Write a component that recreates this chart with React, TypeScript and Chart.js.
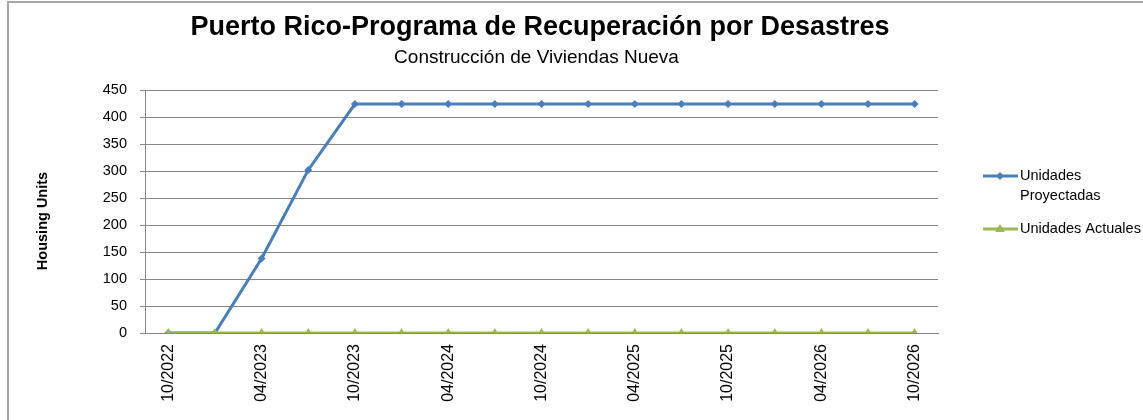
import React, { useEffect, useRef } from "react";
import { Chart, registerables } from "chart.js";

Chart.register(...registerables);

const categories = [
  "10/2022", "01/2023", "04/2023", "07/2023", "10/2023", "01/2024", "04/2024", "07/2024",
  "10/2024", "01/2025", "04/2025", "07/2025", "10/2025", "01/2026", "04/2026", "07/2026", "10/2026",
];
const proyectadas = [0, 0, 138, 302, 424, 424, 424, 424, 424, 424, 424, 424, 424, 424, 424, 424, 424];
const actuales = [0, 0, 0, 0, 0, 0, 0, 0, 0, 0, 0, 0, 0, 0, 0, 0, 0];
const seriesNames = [["Unidades", "Proyectadas"], ["Unidades Actuales"]];
const titleText = "Puerto Rico-Programa de Recuperación por Desastres";
const subtitleText = "Construcción de Viviendas Nueva";
const yTitle = "Housing Units";

const FONT = "'Liberation Sans', Arial, sans-serif";
const BLUE = "#4A7EBB";
const GREEN = "#98B954";

const decorPlugin = {
  id: "decor",
  afterDraw(chart: any) {
    const ctx = chart.ctx;
    ctx.save();
    ctx.fillStyle = "#000";
    ctx.textAlign = "center";
    ctx.textBaseline = "middle";
    ctx.font = `bold 27px ${FONT}`;
    ctx.fillText(titleText, 540, 28);
    ctx.font = `19px ${FONT}`;
    ctx.fillText(subtitleText, 536.5, 58);
    // y title
    ctx.save();
    ctx.translate(43, 221);
    ctx.rotate(-Math.PI / 2);
    ctx.font = `bold 14.5px ${FONT}`;
    ctx.fillText(yTitle, 0, 0);
    ctx.restore();
    // legend
    const items = [
      { lines: seriesNames[0], color: BLUE, y: 176, style: "rectRot" },
      { lines: seriesNames[1], color: GREEN, y: 229, style: "triangle" },
    ];
    ctx.textAlign = "left";
    ctx.font = `14.5px ${FONT}`;
    items.forEach((it) => {
      ctx.strokeStyle = it.color;
      ctx.lineWidth = 3;
      ctx.beginPath();
      ctx.moveTo(983, it.y);
      ctx.lineTo(1018, it.y);
      ctx.stroke();
      ctx.fillStyle = it.color;
      ctx.beginPath();
      if (it.style === "rectRot") {
        ctx.moveTo(1000, it.y - 4);
        ctx.lineTo(1004, it.y);
        ctx.lineTo(1000, it.y + 4);
        ctx.lineTo(996, it.y);
      } else {
        ctx.moveTo(1000, it.y - 5);
        ctx.lineTo(1005, it.y + 3);
        ctx.lineTo(995, it.y + 3);
      }
      ctx.closePath();
      ctx.fill();
      ctx.fillStyle = "#000";
      it.lines.forEach((l: string, i: number) => ctx.fillText(l, 1020, it.y + i * 20));
    });
    ctx.restore();
  },
};

export default function App() {
  const ref = useRef<HTMLCanvasElement>(null);
  useEffect(() => {
    const chart = new Chart(ref.current!, {
      type: "line",
      data: {
        labels: categories,
        datasets: [
          {
            label: seriesNames[0].join(" "),
            data: proyectadas,
            borderColor: BLUE,
            backgroundColor: BLUE,
            borderWidth: 3,
            pointStyle: "rectRot",
            pointRadius: 4,
            pointBorderWidth: 0,
            tension: 0,
            order: 1,
          },
          {
            label: seriesNames[1].join(" "),
            data: actuales,
            borderColor: GREEN,
            backgroundColor: GREEN,
            borderWidth: 3,
            pointStyle: "triangle",
            pointRadius: 5,
            pointBorderWidth: 0,
            tension: 0,
            order: 0,
          },
        ],
      },
      options: {
        animation: false,
        responsive: false,
        devicePixelRatio: 1,
        layout: { padding: { top: 90, left: 0, right: 205, bottom: 0 } },
        plugins: {
          legend: { display: false },
          title: { display: false },
          tooltip: { enabled: false },
        },
        scales: {
          x: {
            offset: true,
            grid: { display: false, drawTicks: false },
            border: { display: true, color: "#868686", width: 1 },
            ticks: {
              autoSkip: false,
              maxRotation: 90,
              minRotation: 90,
              padding: 11,
              color: "#000",
              font: { family: FONT, size: 16 },
              callback: (v: any, i: number) => (i % 2 === 0 ? categories[i] : ""),
            },
            afterFit: (s: any) => {
              s.height = 87;
            },
          },
          y: {
            min: 0,
            max: 450,
            grid: { color: "#868686", lineWidth: 1, tickLength: 5, tickColor: "#868686" },
            border: { display: true, color: "#868686", width: 1 },
            ticks: {
              stepSize: 50,
              padding: 13,
              color: "#000",
              font: { family: FONT, size: 14.5 },
            },
            afterFit: (s: any) => {
              s.width = 145;
            },
          },
        },
      },
      plugins: [decorPlugin],
    });
    return () => chart.destroy();
  }, []);
  return (
    <div style={{ position: "absolute", left: 0, top: 0, width: 1143, height: 420, background: "#fff", overflow: "hidden" }}>
      <canvas ref={ref} width={1143} height={420} style={{ position: "absolute", left: 0, top: 0 }} />
      <div
        style={{
          position: "absolute",
          left: 7,
          top: 1,
          width: 1200,
          height: 500,
          borderLeft: "2px solid #a6a6a6",
          borderTop: "2px solid #a6a6a6",
          pointerEvents: "none",
        }}
      />
    </div>
  );
}
